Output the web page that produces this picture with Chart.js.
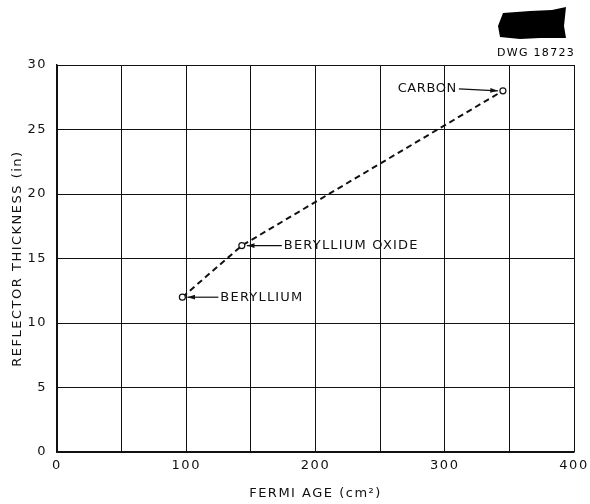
<!DOCTYPE html>
<html>
<head>
<meta charset="utf-8">
<script src="https://cdn.jsdelivr.net/npm/chart.js@4.4.0/dist/chart.umd.min.js"></script>
<style>
  html, body { margin: 0; padding: 0; background: #fff; }
  #wrap { width: 590px; height: 504px; }
</style>
</head>
<body>
<div id="wrap"><canvas id="chart" width="590" height="504"></canvas></div>
<script>
// values
const materials = ['BERYLLIUM', 'BERYLLIUM OXIDE', 'CARBON'];
const fermiAge = [97, 143, 345];
const thickness = [12, 16, 28];
const xTickLabels = [0, 100, 200, 300, 400];

const FONT = '"DejaVu Sans", "Liberation Sans", sans-serif';

// label text + arrow, placed relative to each point
const labelPlacement = [
  { dx: 38, dy: 0, side: 'right' },
  { dx: 42, dy: 0, side: 'right' },
  { dx: -46, dy: -2, side: 'left' }
];

// spaced-out drafting lettering
const spacing = {
  id: 'spacing',
  beforeDraw(chart) { chart.ctx.letterSpacing = '1.5px'; }
};

const annotations = {
  id: 'annotations',
  afterDatasetsDraw(chart) {
    const ctx = chart.ctx;
    const meta = chart.getDatasetMeta(0);
    ctx.save();
    ctx.letterSpacing = '1.2px';
    ctx.fillStyle = '#111';
    ctx.strokeStyle = '#111';
    ctx.lineWidth = 1.2;
    ctx.font = '13px ' + FONT;
    ctx.textBaseline = 'middle';
    meta.data.forEach((pt, i) => {
      const p = labelPlacement[i];
      const tx = pt.x + p.dx;
      const ty = pt.y + p.dy;
      let startX, endX;
      if (p.side === 'right') {
        ctx.textAlign = 'left';
        ctx.fillText(materials[i], tx, ty);
        startX = tx - 2;
        endX = pt.x + 5;
      } else {
        ctx.letterSpacing = '0.6px';
        ctx.textAlign = 'right';
        ctx.fillText(materials[i], tx, ty);
        startX = tx + 2;
        endX = pt.x - 5;
      }
      const ey = pt.y;
      ctx.beginPath();
      ctx.moveTo(startX, ty);
      ctx.lineTo(endX, ey);
      ctx.stroke();
      // arrow head
      const ang = Math.atan2(ey - ty, endX - startX);
      ctx.beginPath();
      ctx.moveTo(endX, ey);
      ctx.lineTo(endX - 8 * Math.cos(ang - 0.3), ey - 8 * Math.sin(ang - 0.3));
      ctx.lineTo(endX - 8 * Math.cos(ang + 0.3), ey - 8 * Math.sin(ang + 0.3));
      ctx.closePath();
      ctx.fill();
    });

    // drawing number stamp, top right
    ctx.fillStyle = '#000';
    ctx.beginPath();
    ctx.moveTo(503, 13);
    ctx.lineTo(530, 11);
    ctx.lineTo(552, 10);
    ctx.lineTo(566, 7);
    ctx.lineTo(564, 26);
    ctx.lineTo(566, 38);
    ctx.lineTo(540, 38);
    ctx.lineTo(520, 39);
    ctx.lineTo(500, 37);
    ctx.lineTo(498, 26);
    ctx.closePath();
    ctx.fill();
    ctx.font = '11px ' + FONT;
    ctx.letterSpacing = '1.3px';
    ctx.textAlign = 'left';
    ctx.fillText('DWG 18723', 497, 53);
    ctx.restore();
  }
};

new Chart(document.getElementById('chart'), {
  type: 'scatter',
  data: {
    datasets: [{
      data: fermiAge.map((x, i) => ({ x: x, y: thickness[i] })),
      showLine: true,
      borderColor: '#111',
      borderWidth: 2,
      borderDash: [6, 4],
      pointRadius: 3,
      pointBorderWidth: 1.2,
      pointBackgroundColor: '#fff',
      pointBorderColor: '#111',
      tension: 0
    }]
  },
  options: {
    responsive: false,
    animation: false,
    layout: { padding: { top: 65, right: 16, left: 0, bottom: 0 } },
    plugins: {
      legend: { display: false },
      tooltip: { enabled: false }
    },
    scales: {
      x: {
        type: 'linear',
        min: 0,
        max: 400,
        afterFit: s => { s.height = 52; s.paddingLeft = 0; s.paddingRight = 0; },
        ticks: {
          stepSize: 50,
          padding: 6,
          color: '#111',
          font: { family: FONT, size: 13 },
          callback: v => (xTickLabels.includes(v) ? String(v) : '')
        },
        grid: { color: '#111', lineWidth: 1, drawTicks: false },
        border: { color: '#111', width: 1.5 },
        title: {
          display: true,
          text: 'FERMI AGE (cm\u00B2)',
          color: '#111',
          font: { family: FONT, size: 13 },
          padding: { top: 2, bottom: 3 }
        }
      },
      y: {
        min: 0,
        max: 30,
        afterFit: s => { s.width = 57; },
        ticks: {
          stepSize: 5,
          padding: 10,
          color: '#111',
          font: { family: FONT, size: 13 }
        },
        grid: { color: '#111', lineWidth: 1, drawTicks: false },
        border: { color: '#111', width: 1.5 },
        title: {
          display: true,
          text: 'REFLECTOR THICKNESS (in)',
          color: '#111',
          font: { family: FONT, size: 13 },
          padding: { top: 10, bottom: 0 }
        }
      }
    }
  },
  plugins: [spacing, annotations]
});
</script>
</body>
</html>
